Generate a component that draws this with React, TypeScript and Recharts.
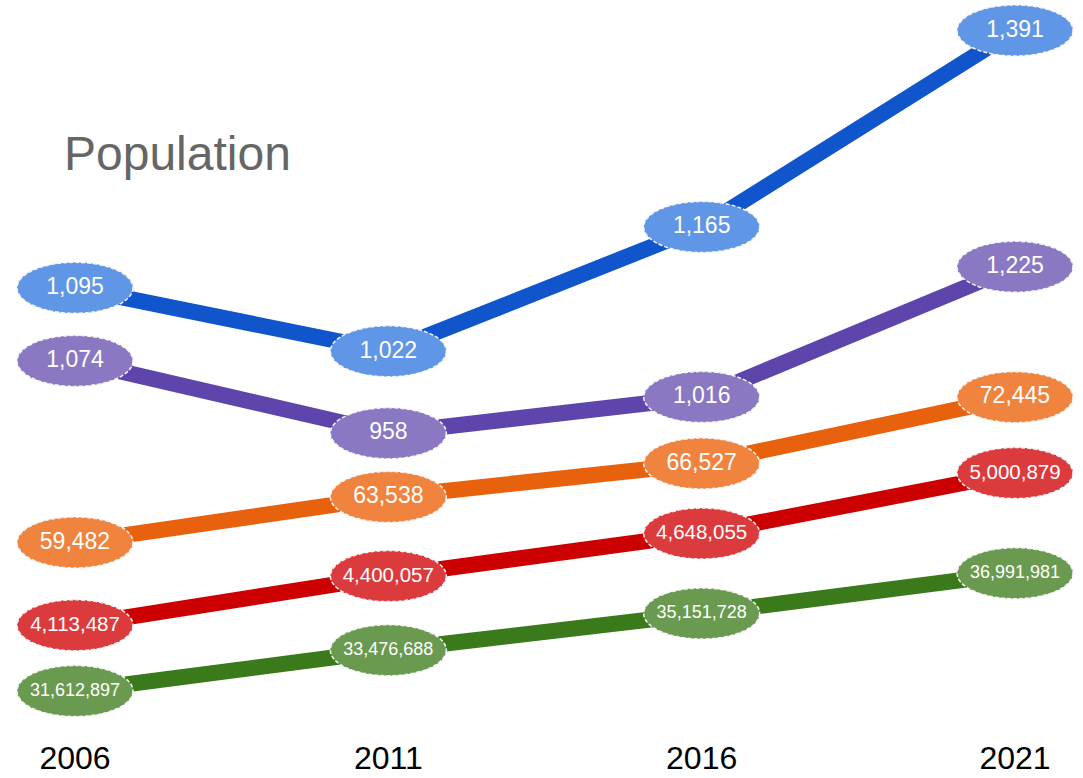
import React from "react";
import { LineChart, Line, XAxis, YAxis } from "recharts";

// years along the bottom
const years = ["2006", "2011", "2016", "2021"];

// one list per line, top to bottom
const blueSeries = [1095, 1022, 1165, 1391];
const purpleSeries = [1074, 958, 1016, 1225];
const orangeSeries = [59482, 63538, 66527, 72445];
const redSeries = [4113487, 4400057, 4648055, 5000879];
const greenSeries = [31612897, 33476688, 35151728, 36991981];

const data = years.map((year, i) => ({
  year,
  blue: blueSeries[i],
  purple: purpleSeries[i],
  orange: orangeSeries[i],
  red: redSeries[i],
  green: greenSeries[i],
}));

// every line sits on its own hidden axis so they stack like the original
const series = [
  { key: "blue", line: "#1155cc", fill: "#6096e6", domain: [621, 1426] },
  { key: "purple", line: "#5e45ab", fill: "#8a78c2", domain: [530, 1653] },
  { key: "orange", line: "#e8620e", fill: "#f0843f", domain: [45419, 107886] },
  { key: "red", line: "#cc0000", fill: "#dc3b3e", domain: [3678149, 7757403] },
  { key: "green", line: "#3a7a1a", fill: "#6a9a50", domain: [31204027, 63156627] },
];

const font = "'Liberation Sans', Arial, sans-serif";

function makeDot(fill: string) {
  return (props: any) => {
    const { cx, cy, value, index } = props;
    const label = Number(value).toLocaleString("en-US");
    const fontSize = label.length > 9 ? 18 : label.length > 7 ? 20.5 : 23;
    return (
      <g key={`dot-${index}`}>
        <ellipse
          cx={cx}
          cy={cy}
          rx={58}
          ry={25.5}
          fill={fill}
          stroke="#f4f4f4"
          strokeWidth={1.5}
          strokeDasharray="4 2"
        />
        <text
          x={cx}
          y={cy + fontSize * 0.27}
          textAnchor="middle"
          fill="#ffffff"
          fontSize={fontSize}
          fontFamily={font}
        >
          {label}
        </text>
      </g>
    );
  };
}

const YearTick = (props: any) => {
  const { x, y, payload } = props;
  return (
    <text x={x} y={y + 61} textAnchor="middle" fill="#000" fontSize={32} fontFamily={font}>
      {payload.value}
    </text>
  );
};

export default function App() {
  return (
    <div style={{ position: "absolute", left: 0, top: 0, width: 1083, height: 778, background: "#fff" }}>
      <LineChart width={1083} height={778} data={data} margin={{ top: 0, right: 68, bottom: 0, left: 75 }}>
        <XAxis
          dataKey="year"
          axisLine={false}
          tickLine={false}
          height={78}
          interval={0}
          tick={<YearTick />}
        />
        {series.map((s) => (
          <YAxis key={s.key} yAxisId={s.key} hide domain={s.domain} />
        ))}
        {series.map((s) => (
          <Line
            key={s.key}
            yAxisId={s.key}
            dataKey={s.key}
            type="linear"
            stroke={s.line}
            strokeWidth={16}
            dot={makeDot(s.fill)}
            activeDot={false}
            isAnimationActive={false}
          />
        ))}
      </LineChart>
      <div
        style={{
          position: "absolute",
          left: 64,
          top: 126,
          fontFamily: font,
          fontSize: 48,
          lineHeight: "56px",
          color: "#666666",
        }}
      >
        Population
      </div>
    </div>
  );
}
